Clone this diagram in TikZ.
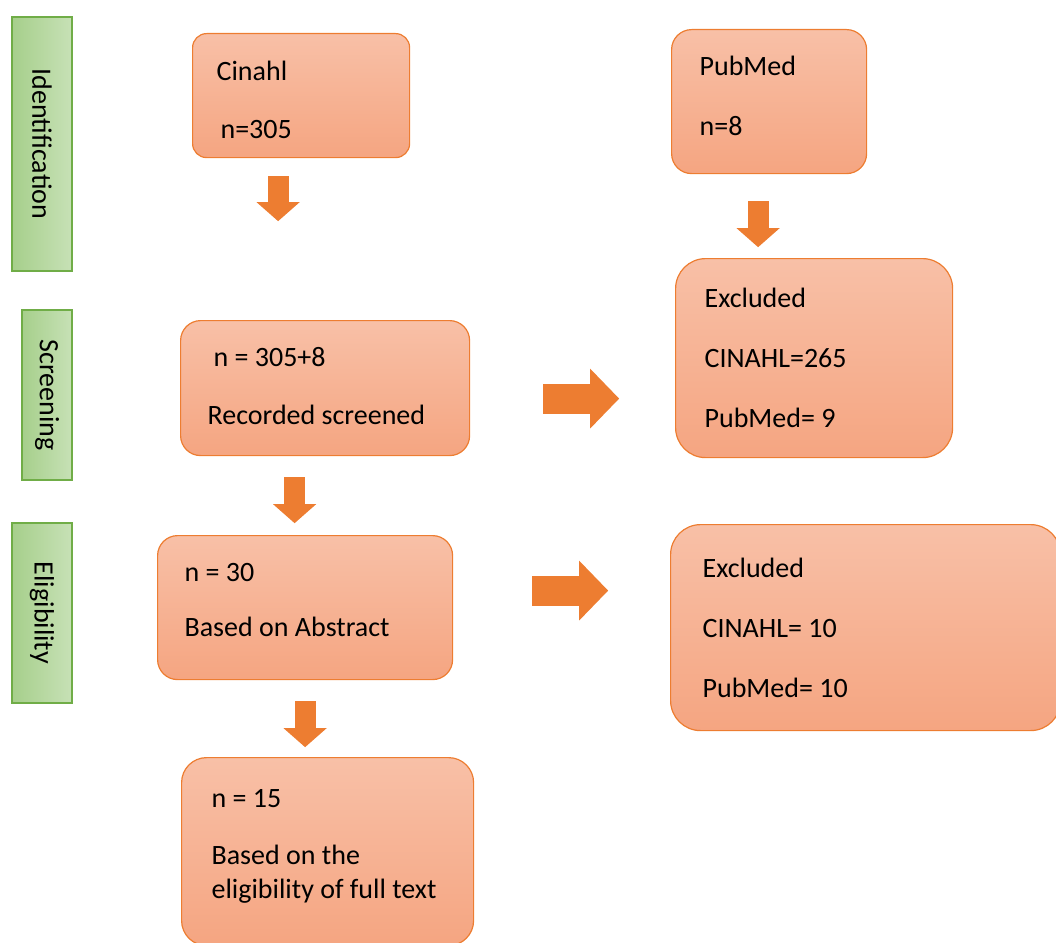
\documentclass[tikz,border=0pt]{standalone}
\usepackage{fontspec}
\setmainfont{Carlito}
\usetikzlibrary{arrows.meta}

\definecolor{boxtop}{RGB}{248,192,167}
\definecolor{boxbot}{RGB}{245,165,129}
\definecolor{boxline}{RGB}{237,125,49}
\definecolor{arrfill}{RGB}{237,125,49}
\definecolor{grdark}{RGB}{166,207,139}
\definecolor{grlight}{RGB}{199,225,182}
\definecolor{grline}{RGB}{112,173,71}

\newcommand{\lift}[1]{\rule[-#1]{0pt}{0pt}}

\begin{document}
\begin{tikzpicture}[
  x=1pt, y=1pt,
  box/.style={draw=boxline, line width=1.2pt, top color=boxtop, bottom color=boxbot,
    align=flush left, anchor=north west, inner ysep=0pt, font=\fontsize{28}{34}\selectfont},
  bar/.style={draw=grline, line width=1.5pt, left color=grdark, right color=grlight,
    rotate=-90, inner sep=0pt, font=\fontsize{28}{34}\selectfont},
  dnarr/.style={draw=arrfill, line width=21pt, -{Triangle[width=42pt,length=19pt]}},
  rtarr/.style={draw=arrfill, line width=30pt, -{Triangle[width=58pt,length=29pt]}}
]
  \useasboundingbox (0,0) rectangle (1056,-942);

  % stage bars
  \node[bar, minimum width=254pt, minimum height=60pt] (ident) at (42,-144) {Identification};
  \node[bar, minimum width=170pt, minimum height=50pt] (screenbar) at (47,-395) {Screening};
  \node[bar, minimum width=180pt, minimum height=60pt] (eligbar) at (42,-613) {Eligibility};

  % boxes
  \node[box, rounded corners=14pt, minimum width=217pt, minimum height=124pt,
        inner xsep=24pt, text width=169pt] (cinahl) at (192,-33)
    {\rule{0pt}{27pt}Cinahl\\[24pt]\hspace{4pt}n=305};
  \node[box, rounded corners=20pt, minimum width=195pt, minimum height=144pt,
        inner xsep=28pt, text width=139pt] (pubmed) at (671,-29)
    {PubMed\\[26pt]n=8\lift{12pt}};
  \node[box, rounded corners=30pt, minimum width=277pt, minimum height=199pt,
        inner xsep=29pt, text width=219pt] (excla) at (675,-258)
    {Excluded\\[26pt]CINAHL=265\\[26pt]PubMed= 9};
  \node[box, rounded corners=20pt, minimum width=289pt, minimum height=135pt,
        inner xsep=27pt, text width=235pt] (screen) at (180,-320)
    {\hspace{6pt}n = 305+8\\[24pt]Recorded screened\lift{4pt}};
  \node[box, rounded corners=20pt, minimum width=295pt, minimum height=144pt,
        inner xsep=27pt, text width=241pt] (abstract) at (157,-535)
    {n = 30\\[21pt]Based on Abstract\lift{16pt}};
  \node[box, rounded corners=30pt, minimum width=390pt, minimum height=206pt,
        inner xsep=32pt, text width=326pt] (exclb) at (670,-524)
    {Excluded\\[26pt]CINAHL= 10\\[26pt]PubMed= 10};
  \node[box, rounded corners=25pt, minimum width=292pt, minimum height=188pt,
        inner xsep=30pt, text width=232pt] (fulltext) at (181,-757)
    {n = 15\\[23pt]Based on the\\eligibility of full text\lift{16pt}};

  % arrows
  \draw[dnarr] ([xshift=-23pt,yshift=-18pt]cinahl.south) -- ++(0,-45);
  \draw[dnarr] ([xshift=-11pt,yshift=-27pt]pubmed.south) -- ++(0,-46);
  \draw[rtarr] ([xshift=73pt,yshift=-10.5pt]screen.east) -- ++(76,0);
  \draw[dnarr] ([xshift=-30.5pt,yshift=-21pt]screen.south) -- ++(0,-46);
  \draw[rtarr] ([xshift=79pt,yshift=17pt]abstract.east) -- ++(76,0);
  \draw[dnarr] ([yshift=-21pt]abstract.south) -- ++(0,-46);
\end{tikzpicture}
\end{document}
